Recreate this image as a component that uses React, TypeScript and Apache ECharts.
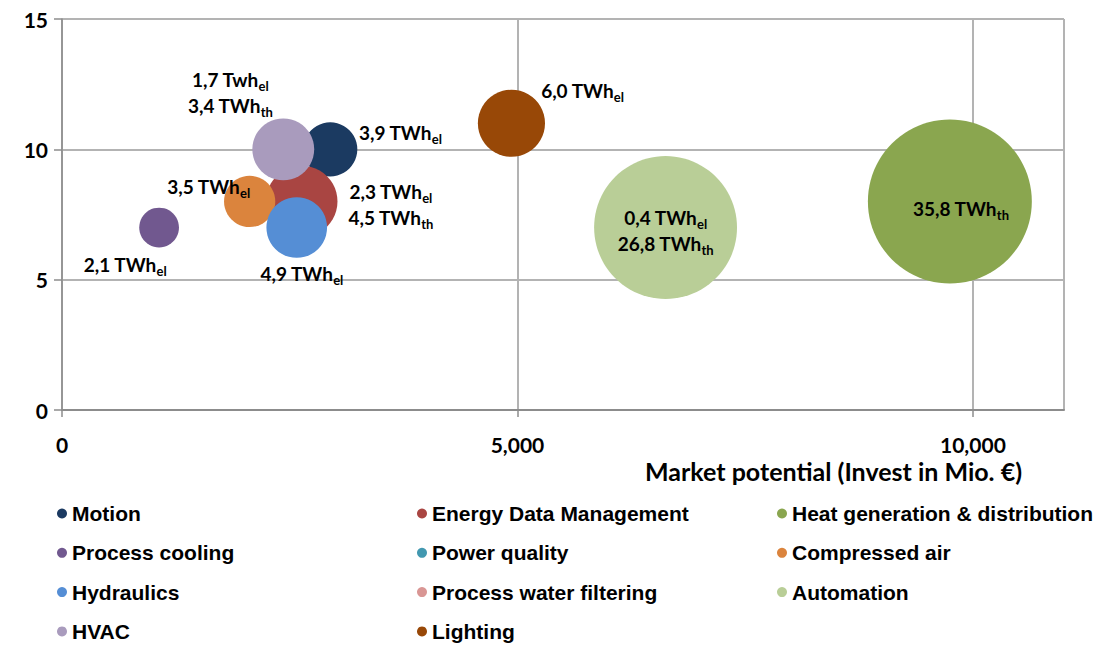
import React, { useEffect, useRef } from "react";
import * as echarts from "echarts";

const names = [
  "Motion",
  "Energy Data Management",
  "Heat generation & distribution",
  "Process cooling",
  "Power quality",
  "Compressed air",
  "Hydraulics",
  "Process water filtering",
  "Automation",
  "HVAC",
  "Lighting",
];
// Market potential (Invest in Mio. €)
const xValues: (number | null)[] = [2945, 2632, 9747, 1066, null, 2060, 2577, null, 6626, 2429, 4934];
// vertical value
const yValues: (number | null)[] = [10, 8, 8, 7, null, 8, 7, null, 7, 10, 11];
// bubble size: total savings potential (TWh)
const sizes: (number | null)[] = [3.9, 6.8, 35.8, 2.1, null, 3.5, 4.9, null, 27.2, 5.1, 6.0];
// label lines: [value, unit, subscript]
const labelLines: string[][][] = [
  [["3,9", "TWh", "el"]],
  [["2,3", "TWh", "el"], ["4,5", "TWh", "th"]],
  [["35,8", "TWh", "th"]],
  [["2,1", "TWh", "el"]],
  [],
  [["3,5", "TWh", "el"]],
  [["4,9", "TWh", "el"]],
  [],
  [["0,4", "TWh", "el"], ["26,8", "TWh", "th"]],
  [["1,7", "Twh", "el"], ["3,4", "TWh", "th"]],
  [["6,0", "TWh", "el"]],
];
const xTicks = [0, 5000, 10000];
const yTicks = [0, 5, 10, 15];
const xAxisTitle = "Market potential (Invest in Mio. €)";

const colors = [
  "#1B3A61",
  "#A94542",
  "#8AA64F",
  "#71588F",
  "#4298B0",
  "#DB843D",
  "#558ED5",
  "#D99694",
  "#B9CE97",
  "#A99BBD",
  "#984807",
];
// label offsets relative to bubble centre (styling)
const labelOffsets: number[][] = [
  [70, -17],
  [89, 3],
  [11, 7],
  [-34, 37],
  [0, 0],
  [-41, -15],
  [5, 46],
  [0, 0],
  [0, 3],
  [-53, -57],
  [71, -33],
];

const legendColumns = [
  [0, 3, 6, 9],
  [1, 4, 7, 10],
  [2, 5, 8],
];
const legendLefts = [57, 417, 777];

const FONT = "Lato, 'Open Sans', sans-serif";

export default function App() {
  const ref = useRef<HTMLDivElement>(null);
  useEffect(() => {
    document.body.style.margin = "0";
    if (!ref.current) return;
    const chart = echarts.init(ref.current, null, { renderer: "svg" });
    const rich = {
      m: { fontFamily: FONT, fontWeight: "bold", fontSize: 19, lineHeight: 26, color: "#000" },
      s: { fontFamily: FONT, fontWeight: "bold", fontSize: 13, lineHeight: 12, color: "#000", verticalAlign: "bottom" },
    };
    const series = names.map((name, i) => {
      const hasData = xValues[i] != null;
      const text = labelLines[i].map((l) => `{m|${l[0]} ${l[1]}}{s|${l[2]}}`).join("\n");
      return {
        name,
        type: "scatter",
        color: colors[i],
        itemStyle: { color: colors[i], opacity: 1 },
        symbol: "circle",
        symbolSize: (v: number[]) => 27.4 * Math.sqrt(v[2]),
        data: hasData ? [[xValues[i], yValues[i], sizes[i]]] : [],
        label: {
          show: labelLines[i].length > 0,
          position: "inside",
          offset: labelOffsets[i],
          align: "center",
          verticalAlign: "middle",
          formatter: () => text,
          rich,
        },
        emphasis: { disabled: true },
      };
    });
    const legends = legendColumns.map((col, c) => ({
      orient: "vertical",
      left: legendLefts[c],
      top: 503,
      height: 143,
      padding: 0,
      itemWidth: 10,
      itemHeight: 10,
      itemGap: 18.3,
      icon: "circle",
      selectedMode: false,
      data: col.map((i) => names[i]),
      textStyle: {
        fontFamily: "'Liberation Sans', Arial, sans-serif",
        fontWeight: "bold",
        fontSize: 21,
        lineHeight: 20,
        color: "#000",
      },
    }));
    chart.setOption({
      animation: false,
      backgroundColor: "#fff",
      grid: { left: 62, right: 37, top: 19, bottom: 236, containLabel: false, outerBoundsMode: "none" },
      legend: legends,
      graphic: [
        {
          type: "text",
          right: 79,
          top: 458,
          style: {
            text: xAxisTitle,
            fontFamily: FONT,
            fontWeight: "bold",
            fontSize: 25,
            lineHeight: 21,
            fill: "#000",
          },
        },
      ],
      xAxis: {
        type: "value",
        min: xTicks[0],
        max: 11000,
        interval: xTicks[1] - xTicks[0],
        axisLine: { show: true, lineStyle: { color: "#8c8c8c", width: 2 } },
        axisTick: { show: true, length: 7, lineStyle: { color: "#8c8c8c", width: 1.5 } },
        splitLine: { show: true, lineStyle: { color: "#b3b3b3", width: 2 } },
        axisLabel: {
          showMaxLabel: false,
          margin: 25,
          fontFamily: FONT,
          fontWeight: "bold",
          fontSize: 21,
          lineHeight: 19,
          color: "#000",
          formatter: (v: number) => (xTicks.includes(v) ? v.toLocaleString("en-US") : ""),
        },
      },
      yAxis: {
        type: "value",
        min: yTicks[0],
        max: yTicks[yTicks.length - 1],
        interval: yTicks[1] - yTicks[0],
        axisLine: { show: true, lineStyle: { color: "#8c8c8c", width: 1.5 } },
        axisTick: { show: true, length: 8, lineStyle: { color: "#8c8c8c", width: 1.5 } },
        splitLine: { show: true, lineStyle: { color: "#b3b3b3", width: 2 } },
        axisLabel: {
          margin: 14,
          fontFamily: FONT,
          fontWeight: "bold",
          fontSize: 21,
          color: "#000",
        },
      },
      series,
    });
    return () => chart.dispose();
  }, []);
  return <div ref={ref} style={{ width: 1101, height: 646 }} />;
}
